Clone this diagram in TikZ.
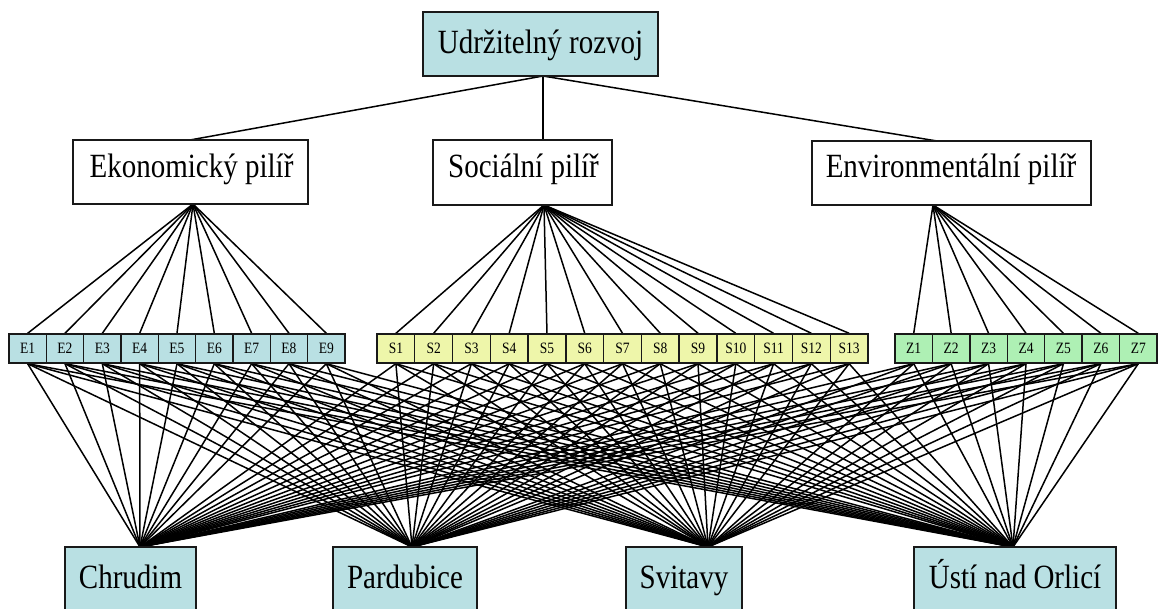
\documentclass[tikz,border=0pt]{standalone}
\usepackage{fontspec}
\setmainfont{Liberation Serif}
\usetikzlibrary{backgrounds}
\definecolor{boxteal}{RGB}{185,224,227}
\definecolor{boxyellow}{RGB}{238,246,170}
\definecolor{boxgreen}{RGB}{174,240,180}
\newcommand\stxt[1]{\scalebox{1}[1.17]{#1}}
\begin{document}
\begin{tikzpicture}[x=1pt,y=-1pt,
  bigbox/.style={draw=black!90, line width=1.5pt, inner sep=0pt},
  bigtext/.style={font=\fontsize{29}{29}\selectfont, anchor=base, inner sep=0pt},
  smallbox/.style={draw=black!90, line width=1.4pt, inner sep=0pt, minimum height=29pt, font=\fontsize{13.5}{13.5}\selectfont},
  conn/.style={line width=1.5pt, black}]
\useasboundingbox (0,0) rectangle (1158,608);

% top
\node[bigbox, fill=boxteal, minimum width=235pt, minimum height=64pt] (top) at (540.5,44) {};
\node[bigtext] (topT) at (540.5,53) {\stxt{Udržitelný rozvoj}};

% pillars
\node[bigbox, fill=white, minimum width=235pt, minimum height=64pt] (ek) at (190.5,172) {};
\node[bigtext] (ekT) at (191.5,177) {\stxt{Ekonomický pilíř}};
\node[bigbox, fill=white, minimum width=179pt, minimum height=65pt] (so) at (522.5,172.5) {};
\node[bigtext] (soT) at (523.5,177) {\stxt{Sociální pilíř}};
\node[bigbox, fill=white, minimum width=279pt, minimum height=64pt] (en) at (951.5,173) {};
\node[bigtext] (enT) at (951,177) {\stxt{Environmentální pilíř}};

% indicator boxes
\foreach \i in {1,...,9}
  \node[smallbox, fill=boxteal, minimum width=37.33pt] (E\i) at ({9+37.33*(\i-0.5)},348.5) {\stxt{E\i}};
\foreach \i in {1,...,13}
  \node[smallbox, fill=boxyellow, minimum width=37.77pt] (S\i) at ({377+37.77*(\i-0.5)},348.5) {\stxt{S\i}};
\foreach \i in {1,...,7}
  \node[smallbox, fill=boxgreen, minimum width=37.43pt] (Z\i) at ({895+37.43*(\i-0.5)},348.5) {\stxt{Z\i}};

% districts
\node[bigbox, fill=boxteal, minimum width=131pt, minimum height=80pt] (ch) at (130.5,587) {};
\node[bigtext] (chT) at (130.5,588) {\stxt{Chrudim}};
\node[bigbox, fill=boxteal, minimum width=144pt, minimum height=80pt] (pa) at (405,587) {};
\node[bigtext] (paT) at (405,588) {\stxt{Pardubice}};
\node[bigbox, fill=boxteal, minimum width=116pt, minimum height=80pt] (sv) at (684,587) {};
\node[bigtext] (svT) at (684,588) {\stxt{Svitavy}};
\node[bigbox, fill=boxteal, minimum width=202pt, minimum height=80pt] (us) at (1015,587) {};
\node[bigtext] (usT) at (1015,588) {\stxt{Ústí nad Orlicí}};

% attachment points
\coordinate (topB) at (543,76);
\coordinate (ekN) at (190,140);
\coordinate (ekS) at (193,204);
\coordinate (soN) at (543,140);
\coordinate (soS) at (544,205);
\coordinate (enN) at (937,141);
\coordinate (enS) at (933,205);
\coordinate (chN) at (140,547);
\coordinate (paN) at (412,547);
\coordinate (svN) at (708,547);
\coordinate (usN) at (1013,547);

\begin{scope}[on background layer]
  \draw[conn] (topB) -- (ekN);
  \draw[conn] (topB) -- (soN);
  \draw[conn] (topB) -- (enN);
  \foreach \i in {1,...,9} {
    \draw[conn] (ekS) -- (E\i.north);
    \foreach \d in {chN,paN,svN,usN} \draw[conn] (E\i.south) -- (\d);
  }
  \foreach \i in {1,...,13} {
    \draw[conn] (soS) -- (S\i.north);
    \foreach \d in {chN,paN,svN,usN} \draw[conn] (S\i.south) -- (\d);
  }
  \foreach \i in {1,...,7} {
    \draw[conn] (enS) -- (Z\i.north);
    \foreach \d in {chN,paN,svN,usN} \draw[conn] (Z\i.south) -- (\d);
  }
\end{scope}
\end{tikzpicture}
\end{document}
